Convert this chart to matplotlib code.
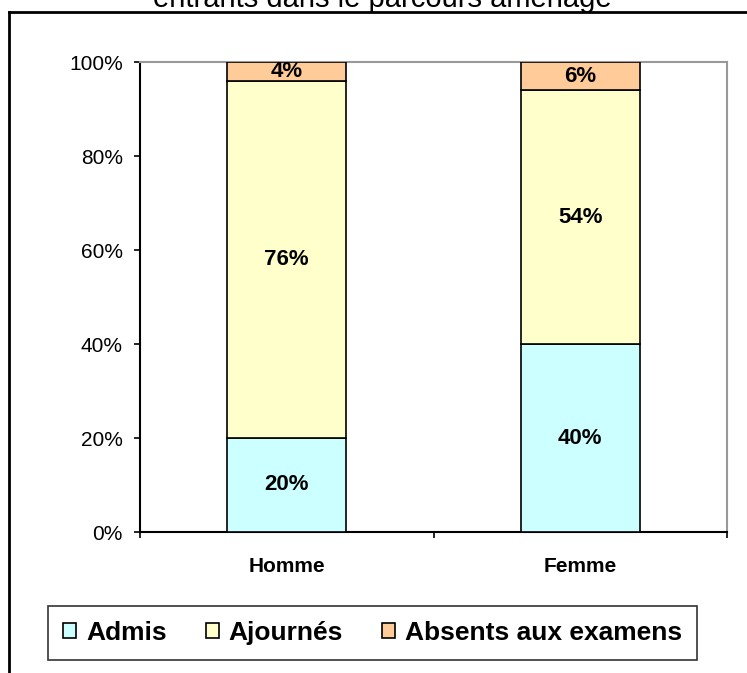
import numpy as np
import matplotlib.pyplot as plt
from matplotlib.lines import Line2D

plt.rcParams['font.family'] = ['Liberation Sans', 'DejaVu Sans']

# Donnees
categories = ['Homme', 'Femme']
admis = [20, 40]
ajournes = [76, 54]
absents = [4, 6]
series = [('Admis', admis, '#CCFFFF'),
          ('Ajournés', ajournes, '#FFFFCC'),
          ('Absents aux examens', absents, '#FFCC99')]

W, H = 747, 673
fig = plt.figure(figsize=(W / 100, H / 100), dpi=100)
ax = fig.add_axes([140 / W, 1 - 532 / H, 587 / W, 470 / H])

x = np.arange(len(categories)) + 0.5
bottom = np.zeros(len(categories))
for name, vals, col in series:
    vals = np.array(vals, dtype=float)
    ax.bar(x, vals, width=0.405, bottom=bottom, color=col,
           edgecolor='black', linewidth=1.2, label=name, zorder=3)
    for xi, b, v in zip(x, bottom, vals):
        ax.text(xi, b + v / 2, f'{v:.0f}%', ha='center', va='center',
                fontsize=16, fontweight='bold', zorder=4)
    bottom += vals

ax.set_xlim(0, 2)
ax.set_ylim(0, 100)
ax.set_yticks(np.arange(0, 101, 20))
ax.set_yticklabels([f'{v}%' for v in range(0, 101, 20)], fontsize=15)
ax.set_xticks([0, 1, 2])
ax.set_xticklabels([])
ax.set_xticks(x, minor=True)
ax.set_xticklabels(categories, minor=True, fontsize=15, fontweight='bold')
ax.tick_params(axis='x', which='minor', length=0, pad=18)
ax.tick_params(axis='both', which='major', direction='out', length=4.3,
               width=1.2, color='black')
ax.tick_params(axis='y', pad=8)

for s in ['left', 'bottom']:
    ax.spines[s].set_color('black')
    ax.spines[s].set_linewidth(1.5)
for s in ['top', 'right']:
    ax.spines[s].set_color('#999999')
    ax.spines[s].set_linewidth(1.5)

leg = fig.legend(loc='center', bbox_to_anchor=(372.5 / W, 1 - 633 / H), ncol=3,
                 frameon=True, fancybox=False, edgecolor='black',
                 prop={'size': 19, 'weight': 'bold'}, handlelength=0.49,
                 handleheight=0.49, handletextpad=0.38, columnspacing=1.48,
                 borderpad=0.58, borderaxespad=0)
leg.get_frame().set_linewidth(1.2)

# Cadre du graphique (coupe en haut et a droite)
fig.add_artist(Line2D([9 / W, 9 / W], [0, 1 - 12 / H], color='black', lw=2))
fig.add_artist(Line2D([9 / W, 1], [1 - 12 / H, 1 - 12 / H], color='black', lw=2))

fig.text(382 / W, 1 - 7 / H, 'entrants dans le parcours aménagé',
         ha='center', va='baseline', fontsize=21)

fig.savefig('out.png', dpi=100)
